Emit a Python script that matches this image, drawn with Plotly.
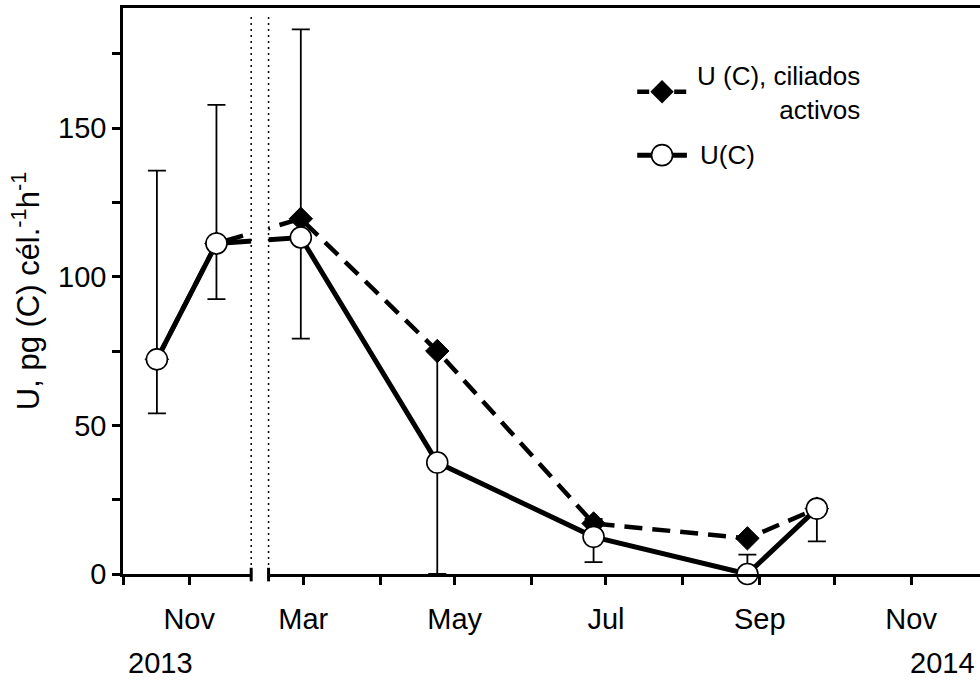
import plotly.graph_objects as go

# Sampling dates and carbon uptake per cell
dates = ["2013-10-19", "2013-11-12", "2014-02-28", "2014-04-24",
         "2014-06-26", "2014-08-27", "2014-09-24"]
u_c = [72.2, 111.2, 113.2, 37.5, 12.5, 0.0, 22.0]
u_c_err_plus = [63.5, 46.6, 70.0, 37.5, 6.0, 6.5, 0.0]
u_c_err_minus = [18.2, 18.7, 34.0, 37.5, 8.5, 0.0, 11.0]
u_c_active = [72.2, 111.2, 119.5, 75.0, 17.0, 12.0, 22.0]

# Labelled month ticks and unlabelled monthly ticks in between
tick_dates = ["2013-11-01", "2014-03-01", "2014-05-01", "2014-07-01",
              "2014-09-01", "2014-11-01"]
tick_labels = ["Nov", "Mar", "May", "Jul", "Sep", "Nov"]
minor_tick_dates = ["2013-10-05 08:00", "2014-04-01", "2014-06-01",
                    "2014-08-01", "2014-10-01"]
year_labels = ["2013", "2014"]

legend_active = "U (C), ciliados<br>activos"
legend_total = "U(C)"

# Winter gap removed from the time axis
break_start, break_end = "2013-11-26", "2014-02-15"
x_range = ["2013-10-05 08:00", "2014-11-28 18:00"]

FONT = "Liberation Sans, Arial, sans-serif"

fig = go.Figure()

fig.add_trace(go.Scatter(
    x=dates, y=u_c_active, mode="lines+markers", name=legend_active,
    line=dict(color="black", width=4.5, dash="18px,10px"),
    marker=dict(symbol="diamond", size=18, color="black",
                line=dict(color="black", width=1)),
    cliponaxis=False, showlegend=False,
))

fig.add_trace(go.Scatter(
    x=dates, y=u_c, mode="lines+markers", name=legend_total,
    line=dict(color="black", width=5),
    marker=dict(symbol="circle", size=21, color="white",
                line=dict(color="black", width=1.6)),
    error_y=dict(type="data", symmetric=False, array=u_c_err_plus,
                 arrayminus=u_c_err_minus, color="black",
                 thickness=1.8, width=9),
    cliponaxis=False, showlegend=False,
))

# Legend samples on an overlay axis spanning the plot area
fig.add_trace(go.Scatter(
    x=[0.600, 0.658], y=[0.852, 0.852], xaxis="x2", yaxis="y2",
    mode="lines", line=dict(color="black", width=4.5, dash="12px,25px,12px"),
    showlegend=False, hoverinfo="skip",
))
fig.add_trace(go.Scatter(
    x=[0.629], y=[0.852], xaxis="x2", yaxis="y2", mode="markers",
    marker=dict(symbol="diamond", size=18, color="black"),
    showlegend=False, hoverinfo="skip",
))
fig.add_trace(go.Scatter(
    x=[0.600, 0.658], y=[0.740, 0.740], xaxis="x2", yaxis="y2",
    mode="lines", line=dict(color="black", width=5),
    showlegend=False, hoverinfo="skip",
))
fig.add_trace(go.Scatter(
    x=[0.629], y=[0.740], xaxis="x2", yaxis="y2", mode="markers",
    marker=dict(symbol="circle", size=21, color="white",
                line=dict(color="black", width=1.6)),
    showlegend=False, hoverinfo="skip",
))

shapes = [
    # blank out the axis and lines inside the break
    dict(type="rect", xref="x", yref="paper", x0=break_start, x1=break_end,
         y0=-0.05, y1=0.985, fillcolor="white", line=dict(width=0), layer="above"),
]
for d in (break_start, break_end):
    shapes.append(dict(type="line", xref="x", yref="paper", x0=d, x1=d,
                       y0=0.016, y1=0.99, layer="above",
                       line=dict(color="black", width=1.5, dash="2px,4px")))
    shapes.append(dict(type="line", xref="x", yref="paper", x0=d, x1=d,
                       y0=-0.013, y1=0.011, layer="above",
                       line=dict(color="black", width=3)))

annotations = [
    dict(text=legend_active, xref="paper", yref="paper", x=0.668, y=0.850,
         xanchor="left", yanchor="middle", align="right", showarrow=False,
         font=dict(family=FONT, size=26, color="black")),
    dict(text=legend_total, xref="paper", yref="paper", x=0.671, y=0.740,
         xanchor="left", yanchor="middle", align="left", showarrow=False,
         font=dict(family=FONT, size=26, color="black")),
    dict(text=year_labels[0], xref="paper", yref="paper", x=0.044, y=-0.158,
         xanchor="center", yanchor="middle", showarrow=False,
         font=dict(family=FONT, size=29, color="black")),
    dict(text=year_labels[1], xref="paper", yref="paper", x=0.956, y=-0.158,
         xanchor="center", yanchor="middle", showarrow=False,
         font=dict(family=FONT, size=29, color="black")),
]

fig.update_layout(
    width=980, height=681,
    margin=dict(l=123, r=0, t=8, b=107),
    paper_bgcolor="white", plot_bgcolor="white",
    font=dict(family=FONT, size=29, color="black"),
    showlegend=False,
    shapes=shapes, annotations=annotations,
    xaxis=dict(
        type="date", range=x_range,
        rangebreaks=[dict(bounds=["2013-11-29 12:00", "2014-02-11 12:00"])],
        tickmode="array", tickvals=tick_dates, ticktext=tick_labels,
        ticks="outside", ticklen=8, tickwidth=2.5, tickcolor="black",
        minor=dict(tickmode="array", tickvals=minor_tick_dates, ticks="outside",
                   ticklen=8, tickwidth=2.5, tickcolor="black", showgrid=False),
        showline=True, linewidth=2.5, linecolor="black", mirror=True,
        showgrid=False, zeroline=False, ticklabelstandoff=9,
        tickfont=dict(family=FONT, size=29, color="black"),
    ),
    yaxis=dict(
        range=[0, 190.4], tickvals=[0, 50, 100, 150],
        ticks="outside", ticklen=8, tickwidth=2.5, tickcolor="black",
        minor=dict(tickvals=[25, 75, 125, 175], ticks="outside", ticklen=8,
                   tickwidth=2.5, tickcolor="black"),
        showline=True, linewidth=2.5, linecolor="black",
        showgrid=False, zeroline=False, ticklabelstandoff=0,
        tickfont=dict(family=FONT, size=29, color="black"),
        title=dict(text="U, pg (C) cél.<sup>-1</sup>h<sup>-1</sup>",
                   font=dict(family=FONT, size=31, color="black"), standoff=10),
    ),
    xaxis2=dict(overlaying="x", range=[0, 1], visible=False, fixedrange=True),
    yaxis2=dict(overlaying="y", range=[0, 1], visible=False, fixedrange=True),
)

fig.write_html("out.html")
